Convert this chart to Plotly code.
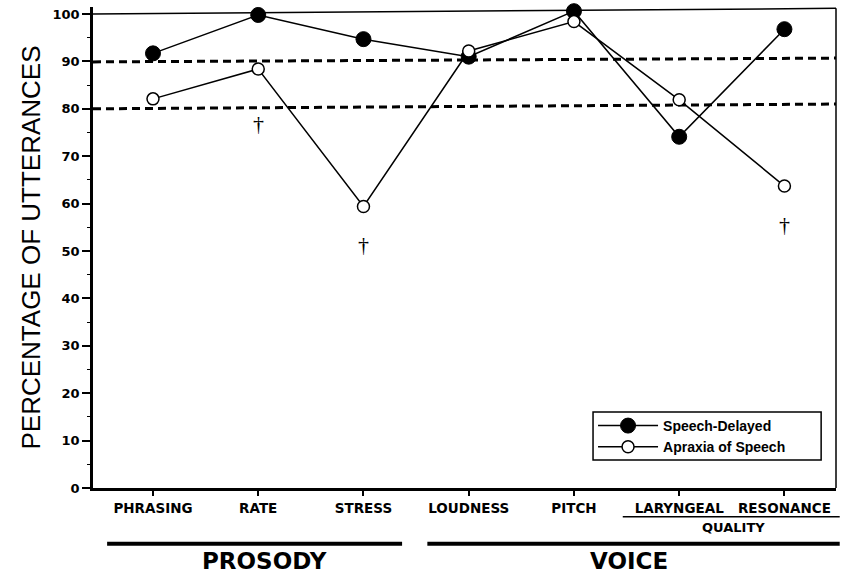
import plotly.graph_objects as go

categories = ["PHRASING", "RATE", "STRESS", "LOUDNESS", "PITCH", "LARYNGEAL", "RESONANCE"]
speech_delayed = [91.7, 99.8, 94.7, 91.0, 100.6, 74.1, 96.8]
apraxia = [82.1, 88.4, 59.4, 92.2, 98.4, 81.9, 63.7]
y_ticks = [0, 10, 20, 30, 40, 50, 60, 70, 80, 90, 100]
# dashed reference lines (value at left edge, value at right edge; slight scan tilt)
ref_lines = [(89.9, 90.7), (80.0, 81.0)]
# significance markers (category, y value)
daggers = [("RATE", 77.0), ("STRESS", 51.3), ("RESONANCE", 55.5)]

fig = go.Figure()

fig.add_trace(go.Scatter(
    x=categories, y=speech_delayed, name="Speech-Delayed", mode="lines+markers",
    line=dict(color="black", width=1.5),
    marker=dict(size=15, color="black", line=dict(color="black", width=1)),
    cliponaxis=False,
))
fig.add_trace(go.Scatter(
    x=categories, y=apraxia, name="Apraxia of Speech", mode="lines+markers",
    line=dict(color="black", width=1.5),
    marker=dict(size=12, color="white", line=dict(color="black", width=1.5)),
    cliponaxis=False,
))

for y0, y1 in ref_lines:
    fig.add_shape(type="line", xref="paper", yref="y", x0=0, x1=1, y0=y0, y1=y1,
                  line=dict(color="black", width=3, dash="8px,5px"), layer="below")

# frame: top (slightly tilted as in scan) and right
fig.add_shape(type="line", xref="paper", yref="y", x0=0, x1=1, y0=100, y1=101.2,
              line=dict(color="black", width=1.5), layer="below")
fig.add_shape(type="line", xref="paper", yref="y", x0=1, x1=1, y0=0, y1=101.2,
              line=dict(color="black", width=1.5), layer="below")

# legend box
fig.add_shape(type="rect", xref="paper", yref="paper", x0=0.673, x1=0.980, y0=0.058, y1=0.158,
              line=dict(color="black", width=1.5), fillcolor="white", layer="above")

for cat, yv in daggers:
    fig.add_annotation(x=cat, y=yv, text="†", showarrow=False,
                       font=dict(family="Liberation Serif", size=22, color="black"))

BF = "DejaVu Sans"
# QUALITY group
fig.add_shape(type="line", xref="paper", yref="paper", x0=0.713, x1=1.005, y0=-0.060, y1=-0.060,
              line=dict(color="black", width=1.5))
fig.add_annotation(xref="paper", yref="paper", x=0.862, y=-0.083, text="<b>QUALITY</b>",
                   xanchor="center", yanchor="middle",
                   showarrow=False, font=dict(family=BF, size=13, color="black"))
# PROSODY / VOICE groups
fig.add_shape(type="line", xref="paper", yref="paper", x0=0.019, x1=0.416, y0=-0.116, y1=-0.116,
              line=dict(color="black", width=4))
fig.add_shape(type="line", xref="paper", yref="paper", x0=0.450, x1=1.005, y0=-0.116, y1=-0.116,
              line=dict(color="black", width=4))
fig.add_annotation(xref="paper", yref="paper", x=0.231, y=-0.151, text="<b>PROSODY</b>",
                   xanchor="center", yanchor="middle",
                   showarrow=False, font=dict(family=BF, size=23, color="black"))
fig.add_annotation(xref="paper", yref="paper", x=0.721, y=-0.151, text="<b>VOICE</b>",
                   xanchor="center", yanchor="middle",
                   showarrow=False, font=dict(family=BF, size=23, color="black"))

fig.update_layout(
    width=846, height=575,
    margin=dict(l=93, r=10, t=7, b=87),
    paper_bgcolor="white", plot_bgcolor="white",
    showlegend=True,
    legend=dict(
        x=0.673, xanchor="left", y=0.052, yanchor="bottom",
        bgcolor="rgba(0,0,0,0)", borderwidth=0,
        font=dict(family="Liberation Sans", size=14, color="black", weight="bold"),
        itemwidth=60, tracegroupgap=0,
    ),
    xaxis=dict(
        type="category", range=[-0.57, 6.49], showgrid=False, zeroline=False,
        showline=True, linecolor="black", linewidth=2.5,
        ticks="outside", ticklen=5, tickwidth=1.5, tickcolor="black",
        tickfont=dict(family=BF, size=13.5, color="black", weight="bold"),
        ticklabelstandoff=1,
    ),
    yaxis=dict(
        range=[0, 101.48], tickvals=y_ticks, showgrid=False, zeroline=False,
        showline=True, linecolor="black", linewidth=2.5,
        ticks="outside", ticklen=8, tickwidth=1.5, tickcolor="black",
        minor=dict(dtick=5, ticks="outside", ticklen=3, tickcolor="black", tickwidth=1),
        tickfont=dict(family=BF, size=13, color="black", weight="bold"),
        title=dict(text="PERCENTAGE OF UTTERANCES", standoff=5,
                   font=dict(family="Liberation Sans", size=26, color="black")),
    ),
)

fig.write_html("out.html")
